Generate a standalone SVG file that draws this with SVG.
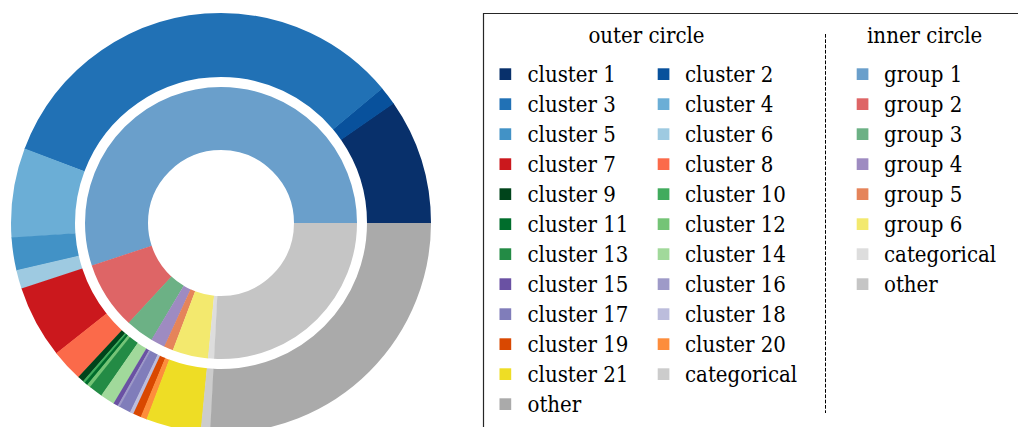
<svg xmlns="http://www.w3.org/2000/svg" width="1018" height="427" viewBox="0 0 1018 427">
<style>
.o{fill:none;stroke-width:64}
.i{fill:none;stroke-width:63}
text{font-family:"DejaVu Serif Condensed","DejaVu Serif",serif;font-stretch:condensed;font-size:22px;fill:#000}
</style>
<rect width="1018" height="427" fill="#fff"/>
<g id="chart" transform="translate(221,223) scale(1,-1)">
<g id="outer-ring">
<circle class="o" r="178" pathLength="360" stroke="#08306b" stroke-dasharray="34.85 325.15" stroke-dashoffset="0"/>
<circle class="o" r="178" pathLength="360" stroke="#08519c" stroke-dasharray="5.25 354.75" stroke-dashoffset="-34.7"/>
<circle class="o" r="178" pathLength="360" stroke="#2171b5" stroke-dasharray="119.55 240.45" stroke-dashoffset="-39.8"/>
<circle class="o" r="178" pathLength="360" stroke="#6baed6" stroke-dasharray="24.95 335.05" stroke-dashoffset="-159.2"/>
<circle class="o" r="178" pathLength="360" stroke="#4292c6" stroke-dasharray="9.15 350.85" stroke-dashoffset="-184"/>
<circle class="o" r="178" pathLength="360" stroke="#9ecae1" stroke-dasharray="5.35 354.65" stroke-dashoffset="-193"/>
<circle class="o" r="178" pathLength="360" stroke="#cb181d" stroke-dasharray="20.25 339.75" stroke-dashoffset="-198.2"/>
<circle class="o" r="178" pathLength="360" stroke="#fb6a4a" stroke-dasharray="9.05 350.95" stroke-dashoffset="-218.3"/>
<circle class="o" r="178" pathLength="360" stroke="#00441b" stroke-dasharray="1.85 358.15" stroke-dashoffset="-227.2"/>
<circle class="o" r="178" pathLength="360" stroke="#41ab5d" stroke-dasharray="0.75 359.25" stroke-dashoffset="-228.9"/>
<circle class="o" r="178" pathLength="360" stroke="#006d2c" stroke-dasharray="1.05 358.95" stroke-dashoffset="-229.5"/>
<circle class="o" r="178" pathLength="360" stroke="#74c476" stroke-dasharray="1.15 358.85" stroke-dashoffset="-230.4"/>
<circle class="o" r="178" pathLength="360" stroke="#238b45" stroke-dasharray="3.95 356.05" stroke-dashoffset="-231.4"/>
<circle class="o" r="178" pathLength="360" stroke="#a1d99b" stroke-dasharray="4.15 355.85" stroke-dashoffset="-235.2"/>
<circle class="o" r="178" pathLength="360" stroke="#6a51a3" stroke-dasharray="1.45 358.55" stroke-dashoffset="-239.2"/>
<circle class="o" r="178" pathLength="360" stroke="#9e9ac8" stroke-dasharray="0.75 359.25" stroke-dashoffset="-240.5"/>
<circle class="o" r="178" pathLength="360" stroke="#807dba" stroke-dasharray="3.35 356.65" stroke-dashoffset="-241.1"/>
<circle class="o" r="178" pathLength="360" stroke="#bcbddc" stroke-dasharray="1.15 358.85" stroke-dashoffset="-244.3"/>
<circle class="o" r="178" pathLength="360" stroke="#d94801" stroke-dasharray="2.35 357.65" stroke-dashoffset="-245.3"/>
<circle class="o" r="178" pathLength="360" stroke="#fd8d3c" stroke-dasharray="1.85 358.15" stroke-dashoffset="-247.5"/>
<circle class="o" r="178" pathLength="360" stroke="#eedd25" stroke-dasharray="15.35 344.65" stroke-dashoffset="-249.2"/>
<circle class="o" r="178" pathLength="360" stroke="#cccccc" stroke-dasharray="2.75 357.25" stroke-dashoffset="-264.4"/>
<circle class="o" r="178" pathLength="360" stroke="#aaaaaa" stroke-dasharray="93 267" stroke-dashoffset="-267"/>
</g>
<g id="inner-ring">
<circle class="i" r="104.5" pathLength="360" stroke="#6a9fcb" stroke-dasharray="198.35 161.65" stroke-dashoffset="0"/>
<circle class="i" r="104.5" pathLength="360" stroke="#de6566" stroke-dasharray="29.15 330.85" stroke-dashoffset="-198.2"/>
<circle class="i" r="104.5" pathLength="360" stroke="#6cb185" stroke-dasharray="12.15 347.85" stroke-dashoffset="-227.2"/>
<circle class="i" r="104.5" pathLength="360" stroke="#9e8bc1" stroke-dasharray="6.25 353.75" stroke-dashoffset="-239.2"/>
<circle class="i" r="104.5" pathLength="360" stroke="#e5845a" stroke-dasharray="4.05 355.95" stroke-dashoffset="-245.3"/>
<circle class="i" r="104.5" pathLength="360" stroke="#f3e96e" stroke-dasharray="15.35 344.65" stroke-dashoffset="-249.2"/>
<circle class="i" r="104.5" pathLength="360" stroke="#dddddd" stroke-dasharray="2.75 357.25" stroke-dashoffset="-264.4"/>
<circle class="i" r="104.5" pathLength="360" stroke="#c5c5c5" stroke-dasharray="93 267" stroke-dashoffset="-267"/>
</g>
</g>
<g id="legend">
<path d="M483.5,427 V13.5 H1018" fill="none" stroke="#262626" stroke-width="1.2"/>
<line x1="825.5" y1="34" x2="825.5" y2="413" stroke="#000" stroke-width="1" stroke-dasharray="3.7 1.6"/>
<text x="646.5" y="43.3" text-anchor="middle">outer circle</text>
<text x="924.7" y="43.3" text-anchor="middle">inner circle</text>
<g id="legend-outer-col1">
<rect x="499.5" y="68.3" width="11.7" height="11.7" fill="#08306b"/><text x="527.5" y="81.7">cluster 1</text>
<rect x="499.5" y="98.3" width="11.7" height="11.7" fill="#2171b5"/><text x="527.5" y="111.7">cluster 3</text>
<rect x="499.5" y="128.3" width="11.7" height="11.7" fill="#4292c6"/><text x="527.5" y="141.7">cluster 5</text>
<rect x="499.5" y="158.3" width="11.7" height="11.7" fill="#cb181d"/><text x="527.5" y="171.7">cluster 7</text>
<rect x="499.5" y="188.3" width="11.7" height="11.7" fill="#00441b"/><text x="527.5" y="201.7">cluster 9</text>
<rect x="499.5" y="218.3" width="11.7" height="11.7" fill="#006d2c"/><text x="527.5" y="231.7">cluster 11</text>
<rect x="499.5" y="248.3" width="11.7" height="11.7" fill="#238b45"/><text x="527.5" y="261.7">cluster 13</text>
<rect x="499.5" y="278.3" width="11.7" height="11.7" fill="#6a51a3"/><text x="527.5" y="291.7">cluster 15</text>
<rect x="499.5" y="308.3" width="11.7" height="11.7" fill="#807dba"/><text x="527.5" y="321.7">cluster 17</text>
<rect x="499.5" y="338.3" width="11.7" height="11.7" fill="#d94801"/><text x="527.5" y="351.7">cluster 19</text>
<rect x="499.5" y="368.3" width="11.7" height="11.7" fill="#eedd25"/><text x="527.5" y="381.7">cluster 21</text>
<rect x="499.5" y="398.3" width="11.7" height="11.7" fill="#aaaaaa"/><text x="527.5" y="411.7">other</text>
</g>
<g id="legend-outer-col2">
<rect x="657.7" y="68.3" width="11.7" height="11.7" fill="#08519c"/><text x="685" y="81.7">cluster 2</text>
<rect x="657.7" y="98.3" width="11.7" height="11.7" fill="#6baed6"/><text x="685" y="111.7">cluster 4</text>
<rect x="657.7" y="128.3" width="11.7" height="11.7" fill="#9ecae1"/><text x="685" y="141.7">cluster 6</text>
<rect x="657.7" y="158.3" width="11.7" height="11.7" fill="#fb6a4a"/><text x="685" y="171.7">cluster 8</text>
<rect x="657.7" y="188.3" width="11.7" height="11.7" fill="#41ab5d"/><text x="685" y="201.7">cluster 10</text>
<rect x="657.7" y="218.3" width="11.7" height="11.7" fill="#74c476"/><text x="685" y="231.7">cluster 12</text>
<rect x="657.7" y="248.3" width="11.7" height="11.7" fill="#a1d99b"/><text x="685" y="261.7">cluster 14</text>
<rect x="657.7" y="278.3" width="11.7" height="11.7" fill="#9e9ac8"/><text x="685" y="291.7">cluster 16</text>
<rect x="657.7" y="308.3" width="11.7" height="11.7" fill="#bcbddc"/><text x="685" y="321.7">cluster 18</text>
<rect x="657.7" y="338.3" width="11.7" height="11.7" fill="#fd8d3c"/><text x="685" y="351.7">cluster 20</text>
<rect x="657.7" y="368.3" width="11.7" height="11.7" fill="#cccccc"/><text x="685" y="381.7">categorical</text>
</g>
<g id="legend-inner">
<rect x="856.7" y="68.3" width="11.7" height="11.7" fill="#6a9fcb"/><text x="884" y="81.7">group 1</text>
<rect x="856.7" y="98.3" width="11.7" height="11.7" fill="#de6566"/><text x="884" y="111.7">group 2</text>
<rect x="856.7" y="128.3" width="11.7" height="11.7" fill="#6cb185"/><text x="884" y="141.7">group 3</text>
<rect x="856.7" y="158.3" width="11.7" height="11.7" fill="#9e8bc1"/><text x="884" y="171.7">group 4</text>
<rect x="856.7" y="188.3" width="11.7" height="11.7" fill="#e5845a"/><text x="884" y="201.7">group 5</text>
<rect x="856.7" y="218.3" width="11.7" height="11.7" fill="#f3e96e"/><text x="884" y="231.7">group 6</text>
<rect x="856.7" y="248.3" width="11.7" height="11.7" fill="#dddddd"/><text x="884" y="261.7">categorical</text>
<rect x="856.7" y="278.3" width="11.7" height="11.7" fill="#c5c5c5"/><text x="884" y="291.7">other</text>
</g>
</g>
</svg>
